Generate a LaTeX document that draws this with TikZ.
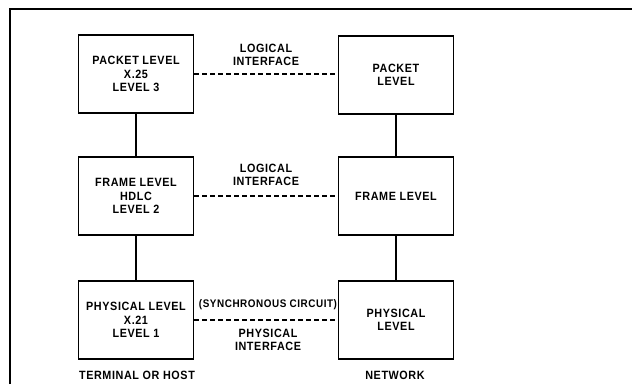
\documentclass[tikz,border=0pt]{standalone}
\usepackage{fontspec}
\setmainfont{Liberation Sans}[FakeStretch=0.9, LetterSpace=5]

\begin{document}
\begin{tikzpicture}[
  x=1pt,
  y=-1pt,
  font=\bfseries\fontsize{12}{13.5}\selectfont,
  level/.style={
    draw,
    line width=1.7pt,
    minimum width=115pt,
    minimum height=78pt,
    inner sep=0pt,
    align=center
  },
  note/.style={align=center, inner sep=1pt},
  link/.style={line width=1.4pt},
  iface/.style={line width=1.4pt, dash pattern=on 5pt off 3pt}
]
\useasboundingbox (0,0) rectangle (632,384);
\draw[line width=1.2pt] (10,384) -- (10,9) -- (632,9);

\node[level] (hostpkt) at (136,74) {PACKET LEVEL\\X.25\\LEVEL 3};
\node[level] (netpkt) at (396,75) {PACKET\\LEVEL};
\node[level] (hostfrm) at (136,196) {FRAME LEVEL\\HDLC\\LEVEL 2};
\node[level] (netfrm) at (396,196) {FRAME LEVEL};
\node[level] (hostphy) at (136,320) {PHYSICAL LEVEL\\X.21\\LEVEL 1};
\node[level] (netphy) at (396,320) {PHYSICAL\\LEVEL};

\node[note] (ifpkt) at (266,55) {LOGICAL\\INTERFACE};
\node[note] (iffrm) at (266,175) {LOGICAL\\INTERFACE};
\node[note, font=\bfseries\fontsize{11}{13}\selectfont] (sync) at (268,305) {(SYNCHRONOUS CIRCUIT)};
\node[note] (ifphy) at (268,340) {PHYSICAL\\INTERFACE};
\node[note] (host) at (137,375) {TERMINAL OR HOST};
\node[note] (net) at (395,375) {NETWORK};

\draw[link] (hostpkt) -- (hostfrm);
\draw[link] (hostfrm) -- (hostphy);
\draw[link] (netpkt) -- (netfrm);
\draw[link] (netfrm) -- (netphy);
\draw[iface] (hostpkt.east |- 0,74) -- (netpkt.west |- 0,74);
\draw[iface] (hostfrm) -- (netfrm);
\draw[iface] (hostphy) -- (netphy);
\end{tikzpicture}
\end{document}
